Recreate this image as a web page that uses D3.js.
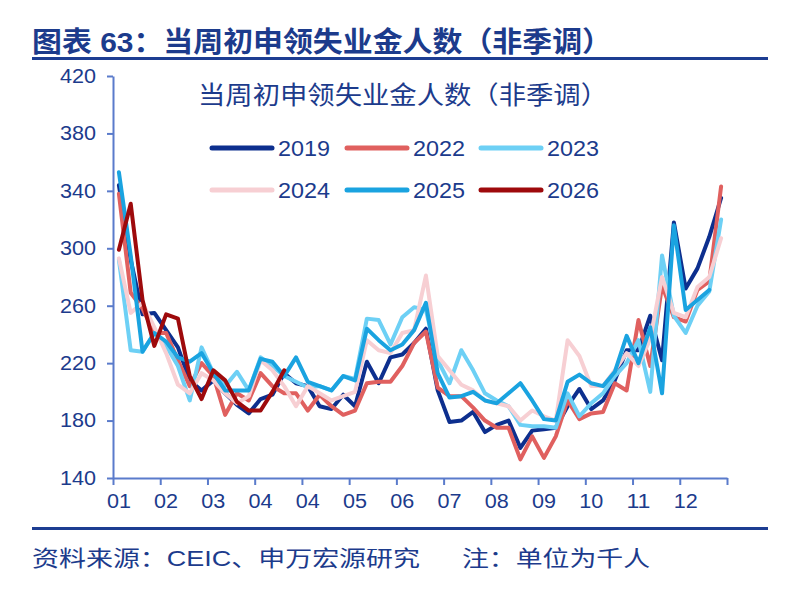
<!DOCTYPE html>
<html><head><meta charset="utf-8">
<script src="https://cdn.jsdelivr.net/npm/d3@7/dist/d3.min.js"></script>
<style>
html,body{margin:0;padding:0;background:#fff;}
svg{display:block;}
text{font-family:"Liberation Sans","Noto Sans CJK SC",Arial,sans-serif;}
</style></head>
<body>
<svg id="c" width="786" height="600"></svg>
<script>
// ---- data (thousands, weekly, NSA) ----
const monthLabels = ["01","02","03","04","04","05","06","07","08","09","10","11","12"];
const yTicks = [140,180,220,260,300,340,380,420];
const years = ["2019","2022","2023","2024","2025","2026"];
const s2019 = [344,292,254,255,243,231,208,201,208,199,191,185,195,198,213,206,204,190,188,198,190,221,206,224,226,234,244,201,179,180,186,172,177,180,161,173,174,175,190,202,188,194,208,229,229,253,222,318,272,286,308,335];
const s2022 = [338,269,258,241,241,222,204,220,211,184,199,194,213,204,199,199,187,198,190,184,187,206,207,207,218,234,242,203,197,197,189,180,175,175,153,169,154,169,194,181,185,186,206,201,250,218,274,252,249,271,277,343];
const s2023 = [292,229,228,241,232,218,194,231,213,204,214,201,224,218,211,207,203,204,201,211,209,251,250,233,252,259,257,222,206,229,215,199,194,190,177,176,176,175,199,183,192,199,211,220,236,200,295,253,241,260,270,320];
const s2024 = [293,255,262,245,227,205,199,213,208,199,192,197,222,215,204,190,204,199,194,197,200,236,229,227,241,243,281,225,215,205,201,194,192,190,180,187,183,180,236,225,204,204,215,227,218,237,280,255,252,273,280,307];
const s2025 = [353,295,228,241,235,224,221,227,213,201,201,201,223,221,211,224,207,204,201,211,208,244,236,229,233,243,262,213,196,197,200,194,192,199,206,194,181,180,207,212,206,204,214,239,220,245,199,316,257,264,271];
const s2026 = [299,331,264,232,254,251,211,195,215,208,193,187,187,200,215];
const seriesValues = [s2019,s2022,s2023,s2024,s2025,s2026];
const colors = ["#0d2f8e","#e0605f","#6dd0f5","#f7cfd3","#1aa3e0","#9e0a0c"];

const svg = d3.select("#c");
const textColor = "#1c3b8c";
const axisColor = "#5a7bcb";

// title
svg.append("text").attr("x",32).attr("y",52)
  .attr("font-size",28).attr("font-weight","bold").attr("fill",textColor)
  .attr("textLength",580).attr("lengthAdjust","spacingAndGlyphs")
  .text("图表 63：当周初申领失业金人数（非季调）");
svg.append("line").attr("x1",32).attr("x2",768).attr("y1",58.5).attr("y2",58.5)
  .attr("stroke","#1d3d92").attr("stroke-width",3);

// scales
const x = d3.scaleLinear().domain([0,52]).range([113,727]);
const y = d3.scaleLinear().domain([140,420]).range([478,76]);

// subtitle
svg.append("text").attr("x",198).attr("y",104)
  .attr("font-size",25).attr("fill",textColor)
  .attr("textLength",410).attr("lengthAdjust","spacingAndGlyphs")
  .text("当周初申领失业金人数（非季调）");

// axes
const gy = svg.append("g").attr("transform","translate(113,0)")
  .call(d3.axisLeft(y).tickValues(yTicks).tickSize(6).tickPadding(11).tickSizeOuter(0));
gy.select(".domain").attr("stroke",axisColor).attr("stroke-width",2);
gy.selectAll(".tick line").attr("stroke",axisColor).attr("stroke-width",2);
gy.selectAll(".tick text").attr("font-size",20).attr("fill",textColor)
  .attr("font-family","Liberation Sans, Arial, sans-serif")
  .attr("textLength",36).attr("lengthAdjust","spacingAndGlyphs");

const gx = svg.append("g").attr("transform","translate(0,478)")
  .call(d3.axisBottom(x).tickValues(d3.range(0,53,4)).tickSize(7).tickFormat("").tickSizeOuter(0));
gx.select(".domain").attr("stroke",axisColor).attr("stroke-width",2);
gx.selectAll(".tick line").attr("stroke",axisColor).attr("stroke-width",2);

svg.append("g").selectAll("text").data(monthLabels).join("text")
  .attr("x",(d,i)=>x(i*4+0.5)).attr("y",508)
  .attr("text-anchor","middle").attr("font-size",20).attr("fill",textColor)
  .attr("textLength",24).attr("lengthAdjust","spacingAndGlyphs")
  .text(d=>d);

// lines
const line = d3.line().x((d,i)=>x(i+0.5)).y(d=>y(d)).curve(d3.curveLinear);
svg.append("g").selectAll("path").data(seriesValues).join("path")
  .attr("d",d=>line(d)).attr("fill","none")
  .attr("stroke",(d,i)=>colors[i]).attr("stroke-width",4)
  .attr("stroke-linejoin","round").attr("stroke-linecap","round");

// legend
const legX = [212,347,481];
const legY = [148,190];
const leg = svg.append("g").selectAll("g").data(years).join("g")
  .attr("transform",(d,i)=>`translate(${legX[i%3]},${legY[Math.floor(i/3)]})`);
leg.append("line").attr("x1",0).attr("x2",60).attr("y1",0).attr("y2",0)
  .attr("stroke",(d,i)=>colors[i]).attr("stroke-width",5).attr("stroke-linecap","round");
leg.append("text").attr("x",66).attr("y",8).attr("font-size",22).attr("fill",textColor)
  .attr("textLength",52).attr("lengthAdjust","spacingAndGlyphs").text(d=>d);

// footer
svg.append("line").attr("x1",32).attr("x2",768).attr("y1",528.5).attr("y2",528.5)
  .attr("stroke","#1d3d92").attr("stroke-width",3);
svg.append("text").attr("x",32).attr("y",566).attr("font-size",22).attr("fill",textColor)
  .attr("textLength",388).attr("lengthAdjust","spacingAndGlyphs")
  .text("资料来源：CEIC、申万宏源研究");
svg.append("text").attr("x",462).attr("y",566).attr("font-size",22).attr("fill",textColor)
  .attr("textLength",188).attr("lengthAdjust","spacingAndGlyphs")
  .text("注：单位为千人");
</script>
</body></html>
